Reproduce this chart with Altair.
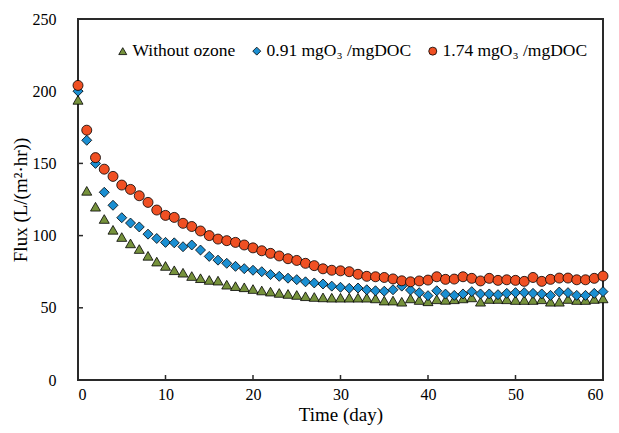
import altair as alt
import pandas as pd

days = list(range(61))

series_names = ["Without ozone", "0.91 mgO₃ /mgDOC", "1.74 mgO₃ /mgDOC"]

without_ozone = [194, 131, 120, 111.5, 104, 99, 94.6, 90.7, 86, 82,
                 79, 76, 74.3, 72, 70.5, 69.3, 68.8, 66, 65, 64.2,
                 63, 62, 61.2, 60.3, 59.6, 58.9, 58, 57.5, 57.2, 57,
                 57, 57, 57, 57, 56.5, 55, 55, 54.2, 56.5, 55.4,
                 54.5, 55.9, 55.5, 55.9, 56.5, 57.2, 54.2, 56.1, 56.1, 55.9,
                 55.4, 55.4, 55.4, 55.9, 54.2, 54.2, 56.1, 55.4, 55.4, 56.1,
                 56.5]

ozone_091 = [200, 166, 150, 130, 121, 112.4, 108.7, 106, 101, 98,
             95.3, 95, 92.3, 93.5, 90, 85.6, 83, 80.8, 78.7, 77.1,
             76, 75, 73, 71.8, 70.5, 69.5, 68, 67.2, 66.5, 65,
             64.2, 63.5, 63.7, 62.5, 61.8, 61.5, 62.5, 65, 62.3, 60.5,
             58.4, 61.8, 59.5, 58.6, 59.6, 61.2, 59.6, 59.6, 59.1, 60,
             60.5, 60.5, 60, 59.6, 58.6, 60.9, 60.5, 58.6, 58.6, 60,
             61.2]

ozone_174 = [204, 173, 154, 146, 141, 135, 132, 127.6, 123, 117.7,
             114, 112.6, 108.5, 106.3, 103.2, 100, 97.6, 96.5, 95.3, 93.5,
             91.5, 89.5, 87.7, 85.9, 84, 82.8, 80.8, 79.2, 77, 76,
             75.6, 75, 73.2, 71.8, 71.5, 71, 70, 68.7, 68, 68.6,
             69.2, 71.5, 69.7, 69.9, 71.5, 70.4, 68.6, 70.4, 69, 69.4,
             69, 68.3, 71, 68.3, 69.7, 70.6, 70.6, 69.4, 69.4, 70.4,
             72]

y_ticks = [0, 50, 100, 150, 200, 250]
x_ticks = [0, 10, 20, 30, 40, 50, 60]

colors = ["#76923C", "#1B8FD2", "#F05023"]
shapes = ["triangle-up", "diamond", "circle"]

rows = []
for name, vals in zip(series_names, [without_ozone, ozone_091, ozone_174]):
    for d, v in zip(days, vals):
        rows.append({"day": d, "flux": v, "series": name})
df = pd.DataFrame(rows)

FONT = "Liberation Serif"
W, H = 525, 361
LINE = "#2a2a2a"

xscale = alt.Scale(domain=[0, 60], nice=False, zero=False)
yscale = alt.Scale(domain=[0, 250], nice=False)

common_axis = dict(
    grid=False, ticks=False, domain=False,
    labelFont=FONT, labelFontSize=16, labelColor="black",
    titleFont=FONT, titleFontSize=19, titleColor="black",
    titleFontWeight="normal",
)

legend = alt.Legend(
    orient="none", legendX=36, legendY=23, direction="horizontal", title=None,
    symbolSize=64, symbolStrokeColor="black", symbolStrokeWidth=0.8,
    labelFontSize=17.5, labelFont=FONT, labelColor="black",
    labelFontWeight="normal", columnPadding=12, labelOffset=1,
    labelLimit=400,
)

points = alt.Chart(df).mark_point(
    filled=True, size=100, stroke="black", strokeWidth=0.8, opacity=1
).encode(
    x=alt.X("day:Q", scale=xscale,
            axis=alt.Axis(values=x_ticks, title="Time (day)",
                          labelPadding=6, titleY=34, titleBaseline="middle",
                          **common_axis)),
    y=alt.Y("flux:Q", scale=yscale,
            axis=alt.Axis(values=y_ticks, title="Flux (L/(m²·hr))",
                          labelPadding=22, titleX=-58, titleY=H / 2,
                          titleAngle=-90, titleBaseline="middle",
                          titleAlign="center", **common_axis)),
    color=alt.Color("series:N",
                    scale=alt.Scale(domain=series_names, range=colors),
                    legend=legend),
    shape=alt.Shape("series:N",
                    scale=alt.Scale(domain=series_names, range=shapes),
                    legend=legend),
)

ytick_df = pd.DataFrame({"v": y_ticks})
xtick_df = pd.DataFrame({"v": x_ticks})

# inward tick marks
yticks = alt.Chart(ytick_df).mark_rule(color=LINE, strokeWidth=1.5).encode(
    y=alt.Y("v:Q", scale=yscale), x=alt.value(0), x2=alt.value(5)
)
xticks = alt.Chart(xtick_df).mark_rule(color=LINE, strokeWidth=1.5).encode(
    x=alt.X("v:Q", scale=xscale), y=alt.value(H), y2=alt.value(H - 5)
)

chart = alt.layer(yticks, xticks, points).properties(
    width=W, height=H,
    autosize=alt.AutoSizeParams(type="none"),
    padding={"left": 70, "top": 11, "right": 8, "bottom": 45},
    view=alt.ViewBackground(stroke=LINE, strokeWidth=2),
)

chart.save("out.html", embed_options={"renderer": "svg", "actions": False})
